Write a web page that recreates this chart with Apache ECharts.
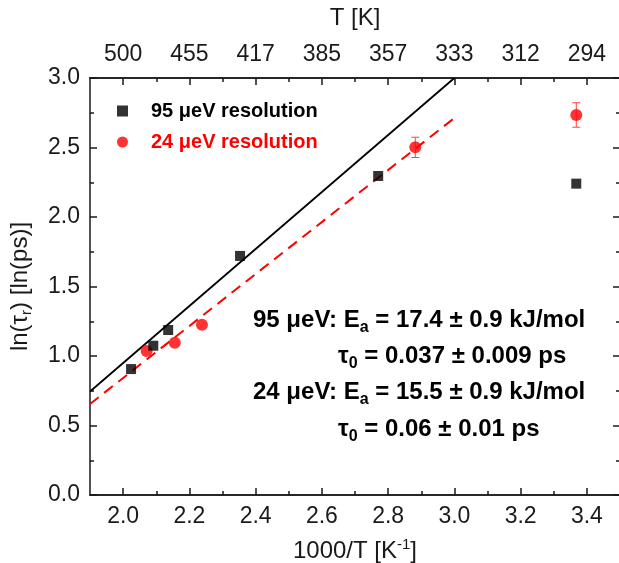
<!DOCTYPE html>
<html><head><meta charset="utf-8">
<script src="https://cdn.jsdelivr.net/npm/echarts@6/dist/echarts.min.js"></script>
<style>html,body{margin:0;padding:0;background:#fff}#c{width:619px;height:563px}</style>
</head><body><div id="c"></div>
<script>
// ---- data ----
const invT95 = [2.024, 2.091, 2.136, 2.353, 2.770, 3.368];
const ln95   = [0.906, 1.074, 1.187, 1.720, 2.295, 2.240];
const invT24 = [2.071, 2.156, 2.238, 2.882, 3.368];
const ln24   = [1.036, 1.096, 1.225, 2.501, 2.734];
const err24  = [0, 0, 0, 0.073, 0.088];
const fit95X = [1.9, 3.0];
const fit95Y = [0.745, 3.0];
const fit24X = [1.9, 3.0];
const fit24Y = [0.655, 2.712];
const xMajorTicks = [2.0, 2.2, 2.4, 2.6, 2.8, 3.0, 3.2, 3.4];
const xMinorTicks = [2.1, 2.3, 2.5, 2.7, 2.9, 3.1, 3.3];
const topTickLabels = ['500', '455', '417', '385', '357', '333', '312', '294'];
const seriesNames = ['95 μeV resolution', '24 μeV resolution'];
const annotationLines = [
  '95 μeV: E{sub|a} = 17.4 ± 0.9 kJ/mol',
  'τ{sub|0} = 0.037 ± 0.009 ps',
  '24 μeV: E{sub|a} = 15.5 ± 0.9 kJ/mol',
  'τ{sub|0} = 0.06 ± 0.01 ps'
];

const FONT = "'Liberation Sans', Arial, sans-serif";
const AX = '#1a1a1a';
const RED = '#ff0000';

const pairs = (xs, ys) => xs.map((x, i) => [x, ys[i]]);
const findIdx = v => xMajorTicks.findIndex(t => Math.abs(t - v) < 1e-6);

const baseX = {
  type: 'value', min: 1.9, max: 3.5, gridIndex: 0,
  splitLine: { show: false },
  axisLine: { show: true, onZero: false, lineStyle: { color: AX, width: 1.5 } }
};
const labelStyle = { color: AX, fontSize: 23, fontFamily: FONT };

const chart = echarts.init(document.getElementById('c'), null, { renderer: 'canvas' });
chart.setOption({
  animation: false,
  backgroundColor: '#fff',
  grid: { left: 90, right: -1, top: 78, bottom: 68, containLabel: false, outerBoundsMode: 'none' },
  xAxis: [
    Object.assign({}, baseX, {
      position: 'bottom',
      axisTick: { show: true, inside: true, length: 7, customValues: xMajorTicks, lineStyle: { color: AX, width: 1.5 } },
      axisLabel: Object.assign({ customValues: xMajorTicks, margin: 10, formatter: v => v.toFixed(1) }, labelStyle),
      name: '1000/T [K{sup|-1}]', nameLocation: 'middle', nameGap: 42,
      nameTextStyle: { color: AX, fontSize: 24, fontFamily: FONT, lineHeight: 28,
        rich: { sup: { fontSize: 15, fontFamily: FONT, color: AX, verticalAlign: 'top', lineHeight: 28, padding: [0, 0, 10, 0] } } }
    }),
    Object.assign({}, baseX, {
      position: 'bottom',
      axisTick: { show: true, inside: true, length: 4, customValues: xMinorTicks, lineStyle: { color: AX, width: 1.5 } },
      axisLabel: { show: false }
    }),
    Object.assign({}, baseX, {
      position: 'top',
      axisTick: { show: true, inside: true, length: 7, customValues: xMajorTicks, lineStyle: { color: AX, width: 1.5 } },
      axisLabel: Object.assign({ customValues: xMajorTicks, margin: 12, formatter: v => topTickLabels[findIdx(v)] }, labelStyle),
      name: 'T [K]', nameLocation: 'middle', nameGap: 48,
      nameTextStyle: { color: AX, fontSize: 24, fontFamily: FONT }
    }),
    Object.assign({}, baseX, {
      position: 'top',
      axisTick: { show: true, inside: true, length: 4, customValues: xMinorTicks, lineStyle: { color: AX, width: 1.5 } },
      axisLabel: { show: false }
    })
  ],
  yAxis: [
    {
      type: 'value', min: 0, max: 3, interval: 0.5, position: 'left',
      splitLine: { show: false },
      axisLine: { show: true, onZero: false, lineStyle: { color: AX, width: 1.5 } },
      axisTick: { show: true, inside: true, length: 7, lineStyle: { color: AX, width: 1.5 } },
      minorTick: { show: true, splitNumber: 2, length: 4, lineStyle: { color: AX, width: 1.5 } },
      axisLabel: Object.assign({ margin: 10, formatter: v => v.toFixed(1) }, labelStyle),
      name: 'ln(τ{sub|r}) [ln(ps)]', nameLocation: 'middle', nameGap: 56,
      nameTextStyle: { color: AX, fontSize: 24, fontFamily: FONT, lineHeight: 28,
        rich: { sub: { fontSize: 15, fontFamily: FONT, color: AX, verticalAlign: 'bottom', lineHeight: 28, padding: [8, 0, 0, 0] } } }
    },
    {
      type: 'value', min: 0, max: 3, interval: 0.5, position: 'right',
      splitLine: { show: false },
      axisLine: { show: true, onZero: false, lineStyle: { color: AX, width: 1.5 } },
      axisTick: { show: true, inside: true, length: 7, lineStyle: { color: AX, width: 1.5 } },
      minorTick: { show: true, splitNumber: 2, length: 4, lineStyle: { color: AX, width: 1.5 } },
      axisLabel: { show: false }
    }
  ],
  legend: {
    orient: 'vertical', left: 117, top: 101, padding: 0, itemWidth: 11, itemHeight: 11, itemGap: 11,
    selectedMode: false,
    textStyle: { fontSize: 20, fontWeight: 'bold', fontFamily: FONT, padding: [0, 0, 0, 18] },
    data: [
      { name: seriesNames[0], icon: 'rect', textStyle: { color: '#000' } },
      { name: seriesNames[1], icon: 'circle', textStyle: { color: RED } }
    ]
  },
  series: [
    { type: 'line', name: 'fit95', data: pairs(fit95X, fit95Y), symbol: 'none', z: 2,
      lineStyle: { color: '#000', width: 1.8 } },
    { type: 'line', name: 'fit24', data: pairs(fit24X, fit24Y), symbol: 'none', z: 2,
      lineStyle: { color: RED, width: 2, type: [11, 7] } },
    { type: 'custom', name: 'err24', z: 3,
      data: invT24.map((x, i) => [x, ln24[i], err24[i]]).filter(d => d[2] > 0),
      renderItem: (params, api) => {
        const x = api.value(0), y = api.value(1), e = api.value(2);
        const top = api.coord([x, y + e]), bot = api.coord([x, y - e]);
        const hw = 4;
        const st = { stroke: '#ff4040', lineWidth: 1 };
        return { type: 'group', children: [
          { type: 'line', shape: { x1: top[0], y1: top[1], x2: bot[0], y2: bot[1] }, style: st },
          { type: 'line', shape: { x1: top[0] - hw, y1: top[1], x2: top[0] + hw, y2: top[1] }, style: st },
          { type: 'line', shape: { x1: bot[0] - hw, y1: bot[1], x2: bot[0] + hw, y2: bot[1] }, style: st }
        ] };
      } },
    { type: 'scatter', name: seriesNames[1], data: pairs(invT24, ln24), symbol: 'circle', symbolSize: 12, z: 4,
      itemStyle: { color: RED } },
    { type: 'scatter', name: seriesNames[0], data: pairs(invT95, ln95), symbol: 'rect', symbolSize: 10, z: 5,
      itemStyle: { color: '#000' } }
  ],
  graphic: annotationLines.map((t, i) => ({
    type: 'text',
    x: [253, 338, 253, 338][i],
    y: [320, 356, 392, 429][i],
    z: 10,
    style: {
      text: t, align: 'left', verticalAlign: 'middle', lineHeight: 32,
      fill: '#000', fontSize: 24, fontWeight: 'bold', fontFamily: FONT,
      rich: { sub: { fontSize: 16, fontWeight: 'bold', fontFamily: FONT, fill: '#000', verticalAlign: 'bottom', lineHeight: 16 } }
    }
  }))
});
</script>
</body></html>
